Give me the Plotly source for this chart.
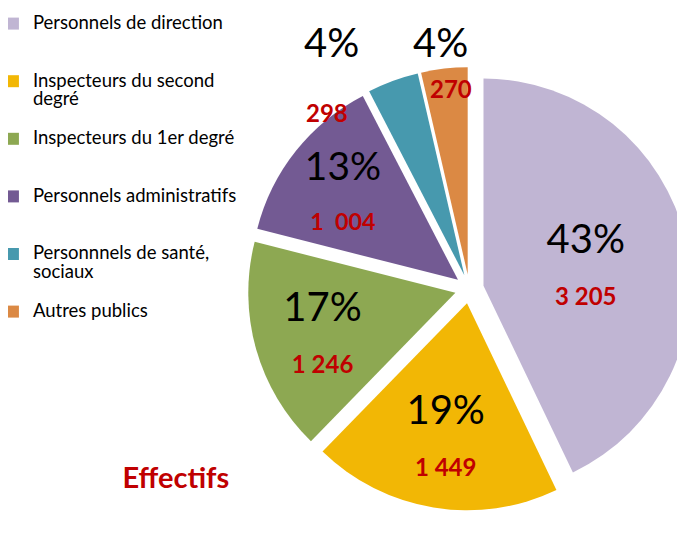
import plotly.graph_objects as go

labels = ["Personnels de direction", "Inspecteurs du second degré", "Inspecteurs du 1er degré",
          "Personnels administratifs", "Personnnels de santé, sociaux", "Autres publics"]
legend_lines = [["Personnels de direction"],
                ["Inspecteurs du second", "degré"],
                ["Inspecteurs du 1er degré"],
                ["Personnels administratifs"],
                ["Personnnels de santé,", "sociaux"],
                ["Autres publics"]]
values = [3205, 1449, 1246, 1004, 298, 270]
value_labels = ["3 205", "1 449", "1 246", "1  004", "298", "270"]
colors = ["#C0B5D3", "#F2B705", "#8DA852", "#735A93", "#4799AE", "#DB8944"]

RED = "#C00000"
total = sum(values)
pct_labels = ["%d%%" % round(100 * v / total) for v in values]


def legend_name(lines):
    parts = ["<span style='font-size:18.5px'>%s</span>" % t for t in lines]
    while len(parts) < 3:
        parts.append(" ")
    return "<br>".join(parts)


legend_names = [legend_name(l) for l in legend_lines]

# large slices: label inside; the two thin slices get labels placed above them
inside = [v / total > 0.05 for v in values]
templates = [
    ("%{percent:.0%}<br><b><span style='color:" + RED + ";font-size:24px'>%{customdata}</span></b>")
    if ok else "" for ok in inside
]

fig = go.Figure(go.Pie(
    labels=legend_names,
    values=values,
    customdata=value_labels,
    sort=False,
    direction="clockwise",
    rotation=0,
    marker=dict(colors=colors, line=dict(color="white", width=0)),
    pull=[0.07] * 6,
    texttemplate=templates,
    textposition="inside",
    insidetextorientation="horizontal",
    textfont=dict(family="Lato", size=40, color="black"),
    domain=dict(x=[0.35, 0.997], y=[0.033, 0.917]),
    hoverinfo="value+percent",
))

# labels of the thin slices (teal, orange)
small_pos = {4: ((0.472, 0.985), (0.465, 0.835)), 5: ((0.632, 0.985), (0.647, 0.881))}
for i, ((px, py), (vx, vy)) in small_pos.items():
    fig.add_annotation(x=px, y=py, xref="paper", yref="paper", text=pct_labels[i], showarrow=False,
                       font=dict(family="Lato", size=40, color="black"))
    fig.add_annotation(x=vx, y=vy, xref="paper", yref="paper", text="<b>%s</b>" % value_labels[i],
                       showarrow=False, font=dict(family="Lato", size=24, color=RED))

fig.update_layout(
    width=685, height=535,
    paper_bgcolor="white", plot_bgcolor="white",
    margin=dict(l=0, r=0, t=0, b=0, autoexpand=False),
    showlegend=True,
    legend=dict(xref="paper", yref="container", x=-0.022, y=1.0, xanchor="left", yanchor="top",
                valign="top", maxheight=530,
                font=dict(family="Lato", size=14, color="black"),
                bgcolor="rgba(0,0,0,0)", traceorder="normal"),
    title=dict(text="<b>Effectifs</b>", xref="container", yref="container", x=0.245, xanchor="center",
               y=0.121, yanchor="middle",
               font=dict(family="Lato", size=29, color=RED)),
)

fig.write_html("out.html")
